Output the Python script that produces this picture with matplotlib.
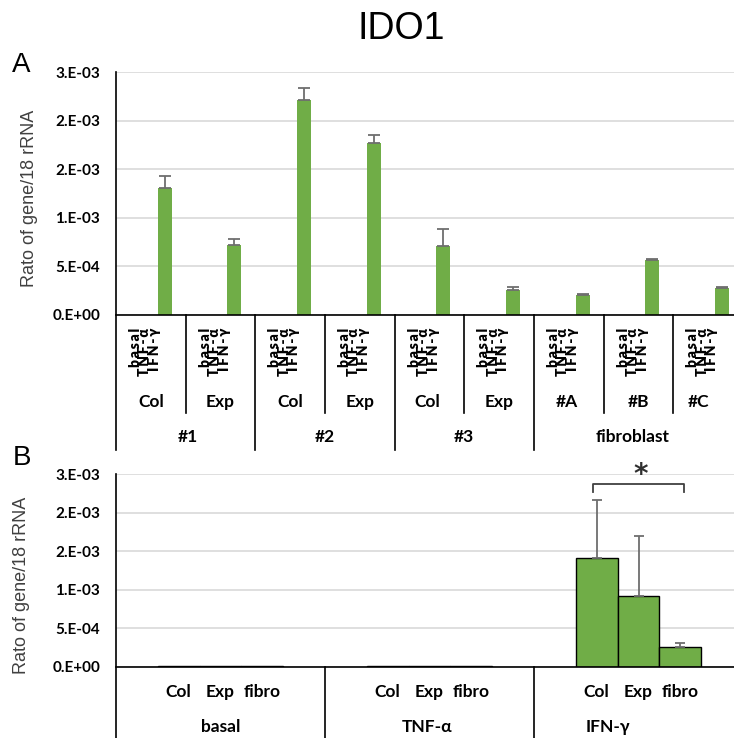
import matplotlib
matplotlib.use("Agg")
import matplotlib.pyplot as plt
import numpy as np
from matplotlib import transforms
from matplotlib.lines import Line2D

W, H = 734, 738
fig = plt.figure(figsize=(W / 100, H / 100), dpi=100)

EXCEL = ["Lato", "DejaVu Sans"]
ARIAL = ["Liberation Sans", "DejaVu Sans"]

# ---------------- data ----------------
treatments = ["basal", "TNF-α", "IFN-γ"]

# Panel A: individual samples
samples = ["Col", "Exp", "Col", "Exp", "Col", "Exp", "#A", "#B", "#C"]
donors = ["#1", "#2", "#3", "fibroblast"]
basal_a = [3e-6, 3e-6, 3e-6, 3e-6, 3e-6, 3e-6, 3e-6, 3e-6, 3e-6]
tnf_a = [4e-6, 4e-6, 4e-6, 4e-6, 4e-6, 4e-6, 4e-6, 4e-6, 4e-6]
ifn_a = [1.31e-3, 0.72e-3, 2.21e-3, 1.77e-3, 0.71e-3, 0.26e-3, 0.21e-3, 0.57e-3, 0.28e-3]
ifn_a_err = [1.2e-4, 0.6e-4, 1.3e-4, 0.8e-4, 1.8e-4, 0.25e-4, 0.06e-4, 0.04e-4, 0.04e-4]

# Panel B: means per cell type within each treatment
cell_types = ["Col", "Exp", "fibro"]
mean_basal = [3e-6, 3e-6, 3e-6]
mean_tnf = [3e-6, 3e-6, 3e-6]
mean_ifn = [1.41e-3, 0.92e-3, 0.255e-3]
err_ifn = [7.6e-4, 7.8e-4, 0.5e-4]

yticks = [0, 5e-4, 1e-3, 1.5e-3, 2e-3, 2.5e-3]
ytick_labels = ["0.E+00", "5.E-04", "1.E-03", "2.E-03", "2.E-03", "3.E-03"]

GREEN = "#70AD47"
BLUE = "#4472C4"
RED = "#D9403A"
GRID = "#D9D9D9"
ERR = "#6E6E6E"


def fy(py):
    return 1 - py / H


def style_axis(ax):
    ax.set_ylim(0, 2.5e-3 * 1.001)
    ax.set_yticks(yticks)
    ax.set_yticklabels(ytick_labels, fontfamily=EXCEL, fontweight="bold", fontsize=11)
    ax.tick_params(axis="y", length=0, pad=11.5)
    ax.tick_params(axis="x", length=0, labelbottom=False)
    ax.set_xticks([])
    for s in ("top", "right", "left"):
        ax.spines[s].set_visible(False)
    ax.spines["bottom"].set_color("black")
    ax.spines["bottom"].set_linewidth(1.2)
    ax.yaxis.grid(True, color=GRID, linewidth=1.2)
    ax.set_axisbelow(True)


# ---------------- panel A ----------------
axA = fig.add_axes([116 / W, fy(315), 627 / W, 243 / H])
axA.set_xlim(0, 9)
style_axis(axA)
xa = np.arange(len(samples)) + 0.5
bw = 0.2
axA.bar(xa - bw, basal_a, bw, color=BLUE)
axA.bar(xa, tnf_a, bw, color=RED)
axA.bar(xa + bw, ifn_a, bw, color=GREEN)
axA.errorbar(xa + bw, ifn_a, yerr=[np.zeros(len(ifn_a)), ifn_a_err], fmt="none",
             ecolor=ERR, elinewidth=1.3, capsize=4, capthick=1.3)

trA = transforms.blended_transform_factory(axA.transData, fig.transFigure)
# y axis line continuing through the category area
fig.add_artist(Line2D([116 / W, 116 / W], [fy(72), fy(450)], color="black", lw=1.2,
                      transform=fig.transFigure))
# category separators
for b in [1, 3, 5, 7, 8]:
    axA.add_line(Line2D([b, b], [fy(315), fy(413)], color="black", lw=1.2,
                        transform=trA, clip_on=False))
for b in [2, 4, 6]:
    axA.add_line(Line2D([b, b], [fy(315), fy(450)], color="black", lw=1.2,
                        transform=trA, clip_on=False))

# rotated treatment labels; each column's baseline sits at the given x-offset (px)
col_px = [140, 149.5, 159]
for g in range(len(samples)):
    for off, t in zip(col_px, treatments):
        axA.text(g + (off - 116) / 69.67, fy(328), "\u2009".join(t), rotation=90,
                 ha="right", va="baseline", rotation_mode="anchor",
                 fontfamily=EXCEL, fontweight="heavy", fontsize=10,
                 transform=trA, clip_on=False)

sample_x = [0.5, 1.5, 2.5, 3.5, 4.47, 5.5, 6.47, 7.5, 8.36]
for x, s in zip(sample_x, samples):
    axA.text(x, fy(407), s, ha="center", va="baseline", fontfamily=EXCEL,
             fontweight="bold", fontsize=12.5, transform=trA, clip_on=False)
donor_x = [1.03, 3.0, 5.0, 7.41]
for x, d in zip(donor_x, donors):
    axA.text(x, fy(442), d, ha="center", va="baseline", fontfamily=EXCEL,
             fontweight="bold", fontsize=12.5, transform=trA, clip_on=False)

# ---------------- panel B ----------------
axB = fig.add_axes([116 / W, fy(666.7), 627 / W, 192.7 / H])
axB.set_xlim(0, 3)
style_axis(axB)
xb = np.arange(len(treatments)) + 0.5
groups = [mean_basal, mean_tnf, mean_ifn]
for k in range(len(cell_types)):
    vals = [grp[k] for grp in groups]
    axB.bar(xb + (k - 1) * bw, vals, bw, color=GREEN, edgecolor="black", linewidth=1.0)
axB.errorbar(xb[2] + (np.arange(3) - 1) * bw, mean_ifn,
             yerr=[np.zeros(3), err_ifn], fmt="none", ecolor=ERR,
             elinewidth=1.3, capsize=3.5, capthick=1.3)

trB = transforms.blended_transform_factory(axB.transData, fig.transFigure)
fig.add_artist(Line2D([116 / W, 116 / W], [fy(474), 0], color="black", lw=1.2,
                      transform=fig.transFigure))
for b in [1, 2]:
    axB.add_line(Line2D([b, b], [fy(666.7), 0], color="black", lw=1.2,
                        transform=trB, clip_on=False))

for g in range(len(treatments)):
    for k, c in enumerate(cell_types):
        axB.text(xb[g] + (k - 1) * bw, fy(696.7), c, ha="center", va="baseline",
                 fontfamily=EXCEL, fontweight="bold", fontsize=12.5, transform=trB,
                 clip_on=False)
treat_x = [0.5, 1.49, 2.354]
for x, t in zip(treat_x, treatments):
    axB.text(x, fy(732), t, ha="center", va="baseline", fontfamily=EXCEL,
             fontweight="bold", fontsize=12.5, transform=trB, clip_on=False)

# significance bracket between Col and fibro (IFN-γ)
bx0, bx1 = xb[2] - bw - 0.02, xb[2] + bw + 0.02
ytop, ylow = 2.37e-3, 2.265e-3
axB.plot([bx0, bx0, bx1, bx1], [ylow, ytop, ytop, ylow], color="#404040", lw=1.3,
         clip_on=False)
axB.text(2.512, 2.49e-3, "*", ha="center", va="center", fontsize=20,
         fontfamily=["DejaVu Sans"], fontweight="bold", color="#303030", clip_on=False)

# ---------------- titles and labels ----------------
fig.text(401 / W, fy(39), "IDO1", ha="center", va="baseline", fontsize=27,
         fontfamily=ARIAL)
fig.text(12 / W, fy(72), "A", ha="left", va="baseline", fontsize=20, fontfamily=ARIAL)
fig.text(13 / W, fy(465), "B", ha="left", va="baseline", fontsize=20, fontfamily=ARIAL)
fig.text(29.5 / W, fy(198), "Rato of gene/18 rRNA", rotation=90, ha="center",
         va="center", fontsize=13, fontfamily=ARIAL, color="#404040")
fig.text(22 / W, fy(585), "Rato of gene/18 rRNA", rotation=90, ha="center",
         va="center", fontsize=13, fontfamily=ARIAL, color="#404040")

fig.savefig("out.png", dpi=100, facecolor="white")
